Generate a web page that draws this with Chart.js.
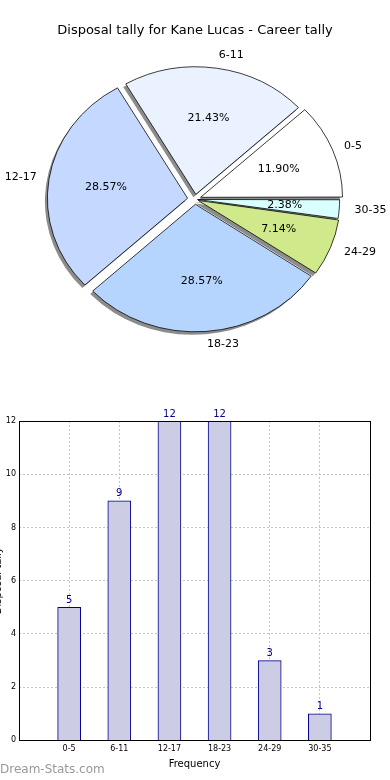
<!DOCTYPE html>
<html>
<head>
<meta charset="utf-8">
<script src="https://cdn.jsdelivr.net/npm/chart.js@4.4.1/dist/chart.umd.min.js"></script>
<style>
  html, body { margin: 0; padding: 0; background: #fff; width: 390px; height: 780px; overflow: hidden; }
  #pieBox { position: absolute; left: 0; top: 0; width: 390px; height: 390px; }
  #barBox { position: absolute; left: -8px; top: 390px; width: 398px; height: 390px; }
  #mark { position: absolute; left: 0; top: 762px; font: 12px "DejaVu Sans"; color: #999; }
</style>
</head>
<body>
<div id="pieBox"><canvas id="pieChart"></canvas></div>
<div id="barBox"><canvas id="barChart"></canvas></div>
<div id="mark">Dream-Stats.com</div>
<script>
const categories = ["0-5", "6-11", "12-17", "18-23", "24-29", "30-35"];
const tally = [5, 9, 12, 12, 3, 1];
const sliceColors = ["#ffffff", "#eaf2ff", "#c5d8ff", "#b5d5ff", "#d0ea8b", "#d9ffff"];

const FONT = "'DejaVu Sans', sans-serif";
const ELLIPSE = 0.91; // matplotlib pie is a bit squashed

// chart.js goes clockwise, matplotlib counter-clockwise -> reverse
const pieLabels = categories.slice().reverse();
const pieValues = tally.slice().reverse();
const pieColors = sliceColors.slice().reverse();
// chart.js v4 moves an arc by offset/4
const pieOffsets = [10, 14, 22, 30, 22, 24];

function squash(chart) {
  const arc = chart.getDatasetMeta(0).data[0];
  const ctx = chart.ctx;
  ctx.translate(arc.x, arc.y);
  ctx.scale(1, ELLIPSE);
  ctx.translate(-arc.x, -arc.y);
}

// same radius growth chart.js applies to an offset arc
function radiusOffset(arc, o) {
  const circ = arc.endAngle - arc.startAngle;
  return o * (1 - Math.sin(Math.min(Math.PI, circ)));
}

const pieLook = {
  id: "pieLook",
  beforeDatasetsDraw(chart) {
    const ctx = chart.ctx;
    // shadows first, all under the wedges
    ctx.save();
    squash(chart);
    ctx.fillStyle = "rgba(0,0,0,0.45)";
    chart.getDatasetMeta(0).data.forEach((arc, i) => {
      const o = pieOffsets[i] / 4;
      const mid = (arc.startAngle + arc.endAngle) / 2;
      const cx = arc.x + Math.cos(mid) * o - 2.5;
      const cy = arc.y + Math.sin(mid) * o + 3 / ELLIPSE;
      ctx.beginPath();
      ctx.moveTo(cx, cy);
      ctx.arc(cx, cy, arc.outerRadius + radiusOffset(arc, o), arc.startAngle, arc.endAngle);
      ctx.closePath();
      ctx.fill();
    });
    ctx.restore();
    ctx.save();
    squash(chart);
  },
  afterDatasetsDraw(chart) {
    const ctx = chart.ctx;
    ctx.restore();
    const ds = chart.data.datasets[0];
    const total = ds.data.reduce((a, b) => a + b, 0);
    ctx.save();
    ctx.fillStyle = "#000";
    ctx.font = "11px " + FONT;
    ctx.textBaseline = "middle";
    chart.getDatasetMeta(0).data.forEach((arc, i) => {
      const mid = (arc.startAngle + arc.endAngle) / 2;
      const c = Math.cos(mid), s = Math.sin(mid);
      const o = 6;
      const r = arc.outerRadius;
      const pd = 0.6 * r + o;
      ctx.textAlign = "center";
      ctx.fillText((ds.data[i] / total * 100).toFixed(2) + "%", arc.x + pd * c, arc.y + pd * s * ELLIPSE);
      const ld = 1.1 * r + o;
      ctx.textAlign = c >= 0 ? "left" : "right";
      ctx.fillText(chart.data.labels[i], arc.x + ld * c, arc.y + ld * s * ELLIPSE);
    });
    ctx.restore();
  }
};

new Chart(document.getElementById("pieChart"), {
  type: "pie",
  data: {
    labels: pieLabels,
    datasets: [{
      data: pieValues,
      backgroundColor: pieColors,
      borderColor: "#000",
      borderWidth: 0.8,
      offset: pieOffsets
    }]
  },
  plugins: [pieLook],
  options: {
    animation: false,
    responsive: true,
    maintainAspectRatio: false,
    rotation: 90,
    radius: 140,
    layout: { padding: { top: 0, bottom: 30, left: 0, right: 0 } },
    plugins: {
      legend: { display: false },
      tooltip: { enabled: false },
      title: {
        display: true,
        text: "Disposal tally for Kane Lucas - Career tally",
        color: "#000",
        font: { family: FONT, size: 13, weight: "normal" },
        padding: { top: 23, bottom: 0 }
      }
    }
  }
});

const barExtras = {
  id: "barExtras",
  afterDatasetsDraw(chart) {
    const ctx = chart.ctx;
    ctx.save();
    ctx.fillStyle = "#00008b";
    ctx.font = "10px " + FONT;
    ctx.textAlign = "center";
    ctx.textBaseline = "bottom";
    chart.getDatasetMeta(0).data.forEach((bar, i) => {
      ctx.fillText(String(tally[i]), bar.x, bar.y - 2);
    });
    ctx.restore();
  },
  afterDraw(chart) {
    const { left, top, width, height } = chart.chartArea;
    const ctx = chart.ctx;
    ctx.save();
    ctx.strokeStyle = "#000";
    ctx.lineWidth = 1;
    ctx.strokeRect(Math.round(left) + 0.5, Math.round(top) + 0.5, Math.round(width), Math.round(height));
    ctx.restore();
  }
};

new Chart(document.getElementById("barChart"), {
  type: "bar",
  data: {
    datasets: [{
      data: categories.map((c, i) => ({ x: i, y: tally[i] })),
      backgroundColor: "#ccccE5",
      borderColor: "#00008b",
      borderWidth: 1,
      barThickness: 23
    }]
  },
  plugins: [barExtras],
  options: {
    animation: false,
    responsive: true,
    maintainAspectRatio: false,
    layout: { padding: { top: 31, right: 20, bottom: 10, left: 0 } },
    plugins: { legend: { display: false }, tooltip: { enabled: false } },
    scales: {
      x: {
        type: "linear",
        min: -1,
        max: 6,
        offset: false,
        z: 1,
        border: { display: false, dash: [2, 2] },
        grid: {
          offset: false,
          drawTicks: false,
          color: (ctx) => (ctx.tick && ctx.tick.value >= 0 && ctx.tick.value <= 5) ? "#c4c4c4" : "rgba(0,0,0,0)"
        },
        ticks: {
          stepSize: 1,
          padding: 4,
          color: "#000",
          maxRotation: 0,
          autoSkip: false,
          font: { family: FONT, size: 8 },
          callback: (v) => categories[v] || ""
        },
        title: {
          display: true,
          text: "Frequency",
          color: "#000",
          font: { family: FONT, size: 10 },
          padding: { top: 0, bottom: 0 }
        }
      },
      y: {
        min: 0,
        max: 12,
        z: 1,
        border: { display: false, dash: [2, 2] },
        grid: {
          drawTicks: false,
          color: (ctx) => (ctx.tick && ctx.tick.value > 0 && ctx.tick.value < 12) ? "#c4c4c4" : "rgba(0,0,0,0)"
        },
        ticks: {
          stepSize: 2,
          padding: 3,
          color: "#000",
          font: { family: FONT, size: 8 }
        },
        title: {
          display: true,
          text: "Disposal tally",
          color: "#000",
          font: { family: FONT, size: 10 },
          padding: 0
        },
        afterFit(scale) { scale.width = 27; }
      }
    }
  }
});
</script>
</body>
</html>
